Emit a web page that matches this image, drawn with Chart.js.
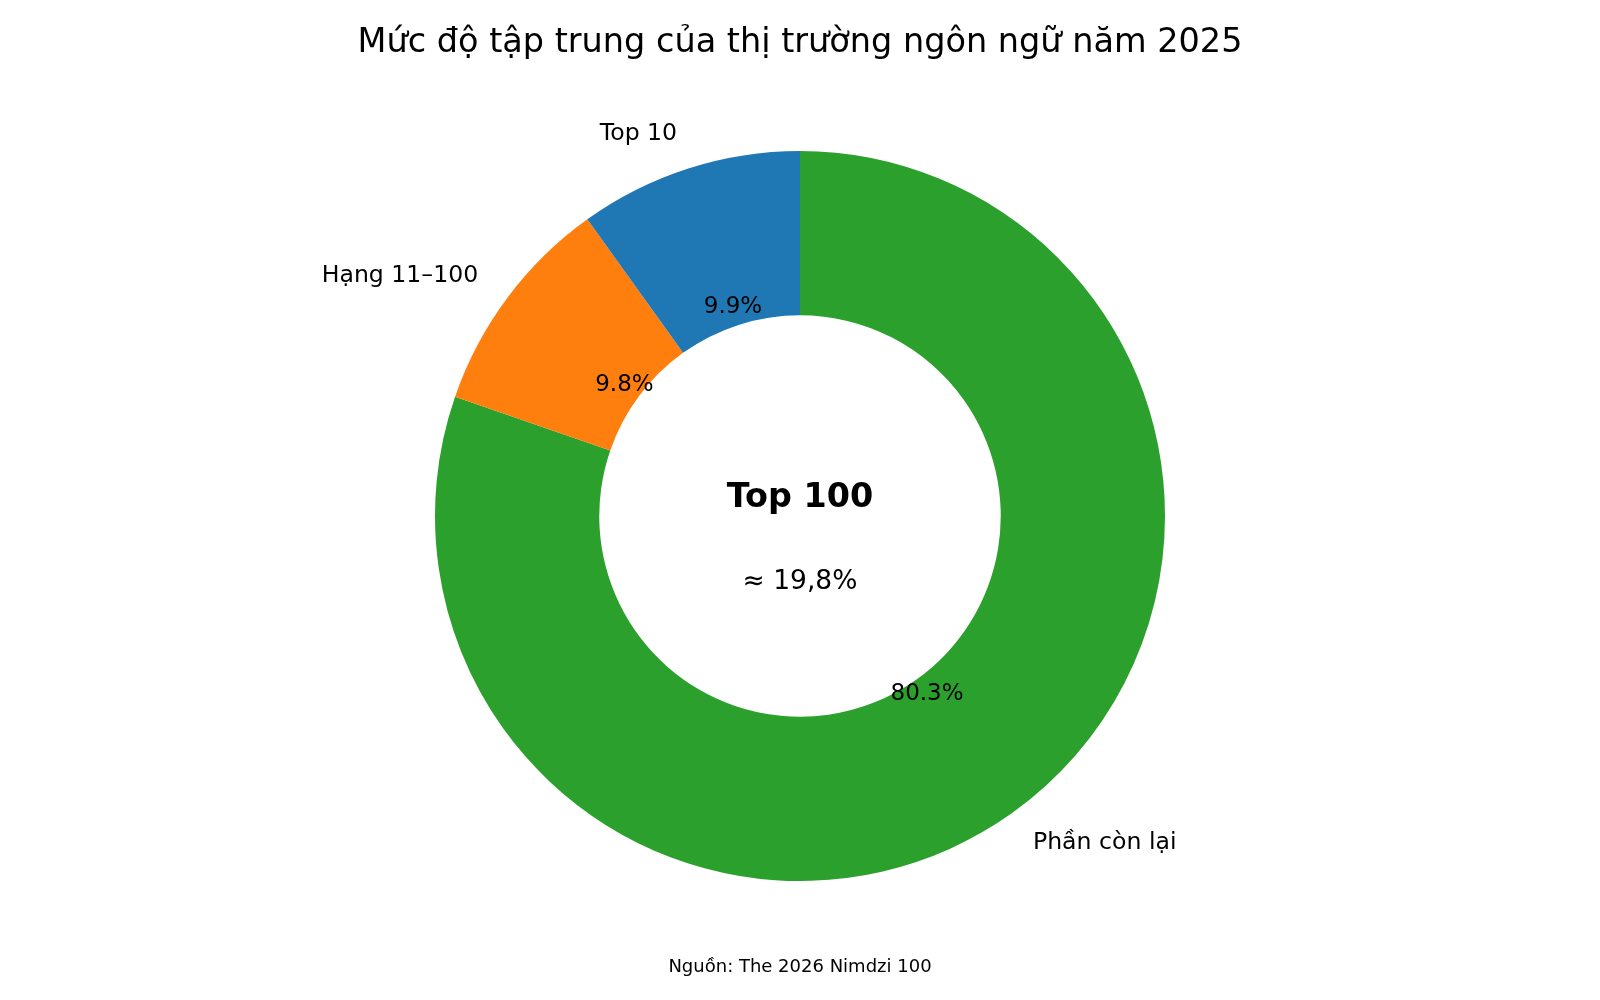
<!DOCTYPE html>
<html>
<head>
<meta charset="utf-8">
<title>Mức độ tập trung của thị trường ngôn ngữ năm 2025</title>
<script src="https://cdn.jsdelivr.net/npm/chart.js"></script>
<style>
  html, body { margin: 0; padding: 0; background: #fff; }
  #wrap { width: 1600px; height: 1000px; position: relative; }
</style>
</head>
<body>
<div id="wrap"><canvas id="donut"></canvas></div>
<script>
// data
const categories = ['Top 10', 'Hạng 11–100', 'Phần còn lại'];
const shares = [9.9, 9.8, 80.3];
const sliceColors = ['#1f77b4', '#ff7f0e', '#2ca02c'];

const titleText = 'Mức độ tập trung của thị trường ngôn ngữ năm 2025';
const centerTitle = 'Top 100';
const centerValue = '≈ 19,8%';
const sourceText = 'Nguồn: The 2026 Nimdzi 100';

const FONT = '"DejaVu Sans", "Noto Sans", sans-serif';

// matplotlib goes counter-clockwise from the top, chart.js clockwise,
// so feed the slices in reverse order
const order = categories.map((c, i) => i).reverse();

//labels around the ring + percent labels + title/center/source
const textPlugin = {
    id: 'donutText',
    afterDraw(chart) {
        const ctx = chart.ctx;
        const meta = chart.getDatasetMeta(0);
        const total = shares.reduce((a, b) => a + b, 0);
        ctx.save();
        ctx.fillStyle = '#000';

        meta.data.forEach((arc, j) => {
            const i = order[j];
            const mid = (arc.startAngle + arc.endAngle) / 2;
            const r = arc.outerRadius;
            const cx = Math.cos(mid), cy = Math.sin(mid);

            // outer label
            ctx.font = '23.6px ' + FONT;
            ctx.textBaseline = 'middle';
            ctx.textAlign = cx > 0 ? 'left' : 'right';
            ctx.fillText(categories[i], arc.x + cx * r * 1.1, arc.y + cy * r * 1.1);

            // percent label
            ctx.font = '23px ' + FONT;
            ctx.textAlign = 'center';
            const pct = (shares[i] / total * 100).toFixed(1) + '%';
            ctx.fillText(pct, arc.x + cx * r * 0.6, arc.y + cy * r * 0.6);
        });

        const x0 = meta.data[0].x;
        const y0 = meta.data[0].y;
        ctx.textAlign = 'center';
        ctx.textBaseline = 'alphabetic';

        ctx.font = 'bold 33.4px ' + FONT;
        ctx.fillText(centerTitle, x0, y0 - 9);
        ctx.font = '26.5px ' + FONT;
        ctx.fillText(centerValue, x0, y0 + 73);

        ctx.font = '33.5px ' + FONT;
        ctx.fillText(titleText, chart.width / 2, 52);
        ctx.font = '18px ' + FONT;
        ctx.fillText(sourceText, chart.width / 2, 972);
        ctx.restore();
    }
};

const donut = new Chart(document.getElementById('donut'), {
    type: 'doughnut',
    data: {
        labels: order.map(i => categories[i]),
        datasets: [{
            data: order.map(i => shares[i]),
            backgroundColor: order.map(i => sliceColors[i]),
            borderWidth: 0,
            hoverOffset: 0
        }]
    },
    options: {
        responsive: true,
        maintainAspectRatio: false,
        devicePixelRatio: 1,
        animation: false,
        cutout: '55%',
        rotation: 0,
        layout: {
            padding: { left: 435, right: 435, top: 151, bottom: 119 }
        },
        plugins: {
            legend: { display: false },
            tooltip: { enabled: false },
            title: { display: false }
        }
    },
    plugins: [textPlugin]
});
</script>
</body>
</html>
